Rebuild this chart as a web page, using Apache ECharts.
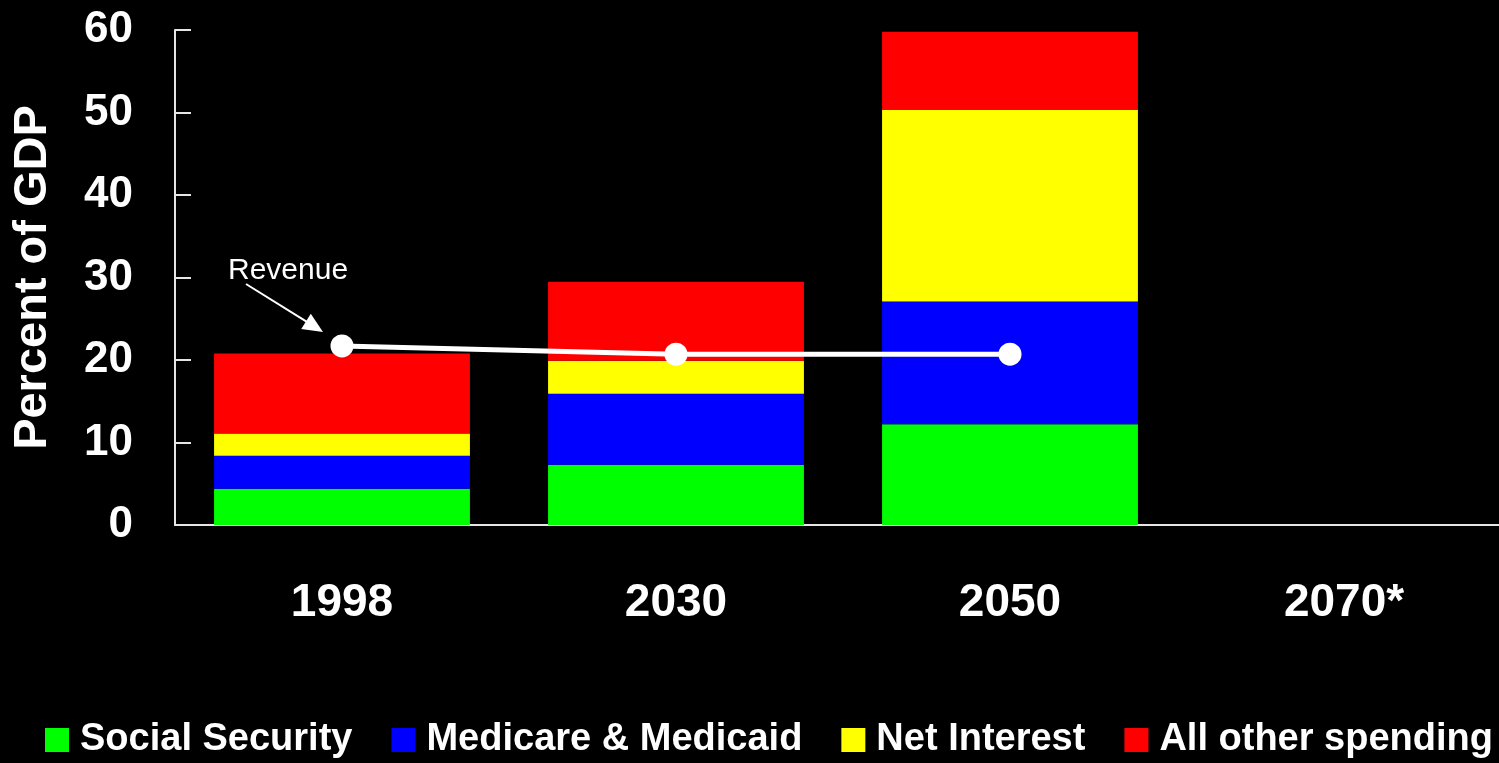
<!DOCTYPE html>
<html>
<head>
<meta charset="utf-8">
<title>Federal spending as a percent of GDP</title>
<script src="https://cdn.jsdelivr.net/npm/echarts@6/dist/echarts.min.js"></script>
<style>
  html, body { margin: 0; padding: 0; background: #000; }
  #chart { width: 1499px; height: 763px; }
</style>
</head>
<body>
<div id="chart"></div>
<script>
// Years on the horizontal axis
const years = ['1998', '2030', '2050', '2070*'];

// Spending components, percent of GDP (stacked)
const socialSecurity = [4.4, 7.3, 12.2, null];
const medicareMedicaid = [4.0, 8.6, 14.9, null];
const netInterest = [2.7, 4.0, 23.2, null];
const allOtherSpending = [9.7, 9.6, 9.5, null];

// Revenue, percent of GDP
const revenue = [21.7, 20.7, 20.7, null];

// Vertical axis range
const yMin = 0, yMax = 60, yStep = 10;

const FONT = '"Liberation Sans", Arial, sans-serif';
const AXIS_COLOR = '#e6e6e6';

const chart = echarts.init(document.getElementById('chart'), null, { renderer: 'canvas' });

function barSeries(name, data, color) {
  return {
    name: name,
    type: 'bar',
    stack: 'spending',
    data: data,
    barCategoryGap: '23.4%',
    itemStyle: { color: color },
    emphasis: { disabled: true }
  };
}

chart.setOption({
  backgroundColor: '#000',
  animation: false,
  // the plot runs slightly past the right edge of the canvas
  grid: { left: 175, top: 30, bottom: 238, right: -12, outerBoundsMode: 'none' },
  legend: {
    left: 40,
    top: 716,
    width: 1800,
    icon: 'rect',
    itemWidth: 24,
    itemHeight: 24,
    itemGap: 39,
    textStyle: {
      color: '#fff',
      fontFamily: FONT,
      fontWeight: 'bold',
      fontSize: 38,
      padding: [0, 0, 0, 6]
    },
    data: ['Social Security', 'Medicare & Medicaid', 'Net Interest', 'All other spending']
  },
  xAxis: {
    type: 'category',
    data: years,
    axisLine: { lineStyle: { color: AXIS_COLOR, width: 2 } },
    axisTick: { show: false },
    axisLabel: {
      color: '#fff',
      fontFamily: FONT,
      fontWeight: 'bold',
      fontSize: 46,
      margin: 55
    }
  },
  yAxis: {
    type: 'value',
    min: yMin,
    max: yMax,
    interval: yStep,
    name: 'Percent of GDP',
    nameLocation: 'middle',
    nameGap: 118,
    nameTextStyle: {
      color: '#fff',
      fontFamily: FONT,
      fontWeight: 'bold',
      fontSize: 47
    },
    axisLine: { show: true, lineStyle: { color: AXIS_COLOR, width: 2 } },
    axisTick: { show: true, inside: true, length: 16, lineStyle: { color: AXIS_COLOR, width: 2 } },
    splitLine: { show: false },
    axisLabel: {
      color: '#fff',
      fontFamily: FONT,
      fontWeight: 'bold',
      fontSize: 44,
      margin: 42
    }
  },
  series: [
    barSeries('Social Security', socialSecurity, '#00ff00'),
    barSeries('Medicare & Medicaid', medicareMedicaid, '#0000ff'),
    barSeries('Net Interest', netInterest, '#ffff00'),
    barSeries('All other spending', allOtherSpending, '#ff0000'),
    {
      name: 'Revenue',
      type: 'line',
      data: revenue,
      symbol: 'circle',
      symbolSize: 23,
      showAllSymbol: true,
      lineStyle: { color: '#fff', width: 5 },
      itemStyle: { color: '#fff' },
      emphasis: { disabled: true },
      z: 5
    }
  ]
});

// "Revenue" callout with an arrow pointing at the first revenue point
const p = chart.convertToPixel({ seriesIndex: 4 }, [0, revenue[0]]);
const tip = [p[0] - 19, p[1] - 14];
const tail = [p[0] - 96, p[1] - 62];
const dx = tip[0] - tail[0], dy = tip[1] - tail[1];
const len = Math.sqrt(dx * dx + dy * dy);
const ux = dx / len, uy = dy / len;
const headLen = 20, headHalf = 9;
const base = [tip[0] - ux * headLen, tip[1] - uy * headLen];
const shaftEnd = [tip[0] - ux * (headLen - 2), tip[1] - uy * (headLen - 2)];

chart.setOption({
  graphic: [
    {
      type: 'line',
      shape: { x1: tail[0], y1: tail[1], x2: shaftEnd[0], y2: shaftEnd[1] },
      style: { stroke: '#fff', lineWidth: 2 },
      z: 10
    },
    {
      type: 'polygon',
      shape: {
        points: [
          tip,
          [base[0] - uy * headHalf, base[1] + ux * headHalf],
          [base[0] + uy * headHalf, base[1] - ux * headHalf]
        ]
      },
      style: { fill: '#fff' },
      z: 10
    },
    {
      type: 'text',
      x: p[0] - 114,
      y: p[1] - 75,
      style: {
        text: 'Revenue',
        fill: '#fff',
        font: '30px ' + FONT,
        align: 'left',
        verticalAlign: 'middle'
      },
      z: 10
    }
  ]
});
</script>
</body>
</html>
